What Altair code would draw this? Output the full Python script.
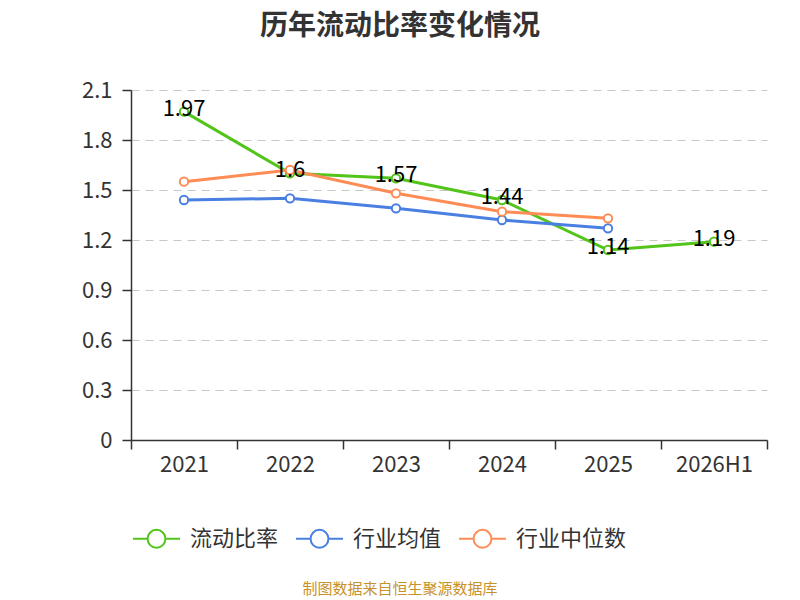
import altair as alt
import pandas as pd

years = ["2021", "2022", "2023", "2024", "2025", "2026H1"]
ratio = [1.97, 1.60, 1.57, 1.44, 1.14, 1.19]
ind_avg = [1.44, 1.45, 1.39, 1.32, 1.27, None]
ind_med = [1.55, 1.62, 1.48, 1.37, 1.33, None]
series_names = ["流动比率", "行业均值", "行业中位数"]
series_colors = ["#52c41a", "#4a7fe2", "#ff8c55"]
y_ticks = [0, 0.3, 0.6, 0.9, 1.2, 1.5, 1.8, 2.1]
title_text = "历年流动比率变化情况"
source_text = "制图数据来自恒生聚源数据库"

rows = []
for name, vals in zip(series_names, [ratio, ind_avg, ind_med]):
    for y, v in zip(years, vals):
        if v is not None:
            rows.append({"year": y, "value": v, "series": name})
df = pd.DataFrame(rows)
df_ratio = df[df["series"] == "流动比率"].copy()
df_ratio["label"] = [f"{v:g}" for v in df_ratio["value"]]

FONT = "Noto Sans CJK SC"
W, H = 636, 350

x_enc = alt.X(
    "year:O",
    sort=years,
    bandPosition=0.5,
    scale=alt.Scale(type="band", domain=years, paddingInner=0, paddingOuter=0),
    axis=alt.Axis(
        title=None, labelAngle=0, tickBand="extent", tickSize=9, labelPadding=5,
        labelFontSize=22, labelColor="#333333", domainColor="#333333",
        tickColor="#333333", domainWidth=1.5, tickWidth=1.5, grid=False,
        labelFont=FONT,
    ),
)
y_enc = alt.Y(
    "value:Q",
    scale=alt.Scale(domain=[0, 2.1], nice=False, zero=True),
    axis=alt.Axis(
        title=None, values=y_ticks, format="~g", tickSize=9, labelPadding=10,
        labelFontSize=22, labelColor="#333333", domainColor="#333333",
        tickColor="#333333", domainWidth=1.5, tickWidth=1.5,
        grid=True, gridDash=[8, 6], gridColor="#c8c8c8", gridWidth=1.2,
        labelFont=FONT,
    ),
)
symbol_path = ("M-1,0 L-0.38,0 M0.38,0 L1,0 "
               "M0.38,0 A0.38,0.38 0 1,1 -0.38,0 A0.38,0.38 0 1,1 0.38,0 Z")
color_enc = alt.Color(
    "series:N",
    scale=alt.Scale(domain=series_names, range=series_colors),
    legend=alt.Legend(
        title=None, orient="none", direction="horizontal",
        legendX=1, legendY=424,
        symbolType=symbol_path, symbolSize=2209, symbolStrokeWidth=2,
        symbolFillColor="white", symbolOpacity=1,
        labelFontSize=22, labelColor="#333333", labelFont=FONT,
        labelOffset=9, columnPadding=13,
    ),
)

lines = alt.Chart(df).mark_line(strokeWidth=3).encode(
    x=x_enc, y=y_enc, color=color_enc, detail="series:N"
)
points = alt.Chart(df).mark_point(
    filled=True, fill="white", size=70, strokeWidth=2, opacity=1
).encode(x=x_enc, y=y_enc, stroke=alt.Stroke("series:N", scale=alt.Scale(domain=series_names, range=series_colors), legend=None))
labels = alt.Chart(df_ratio).mark_text(
    fontSize=22, color="#000000", baseline="middle", dy=-3, font=FONT
).encode(x=x_enc, y=y_enc, text="label:N")
title_mark = alt.Chart(pd.DataFrame({"t": [title_text]})).mark_text(
    fontSize=28, fontWeight="bold", color="#333333", font=FONT, baseline="middle"
).encode(x=alt.value(269), y=alt.value(-63), text="t:N")
source = alt.Chart(pd.DataFrame({"t": [source_text]})).mark_text(
    fontSize=15, color="#c8912a", font=FONT
).encode(x=alt.value(269), y=alt.value(499), text="t:N")

chart = alt.layer(lines, points, labels, title_mark, source).properties(
    width=W, height=H,
    background="white",
    autosize=alt.AutoSizeParams(type="none"),
    padding={"left": 123, "top": 82, "right": 25, "bottom": 160},
).configure_view(stroke=None)

chart.save("out.html", embed_options={"renderer": "svg", "actions": False})
